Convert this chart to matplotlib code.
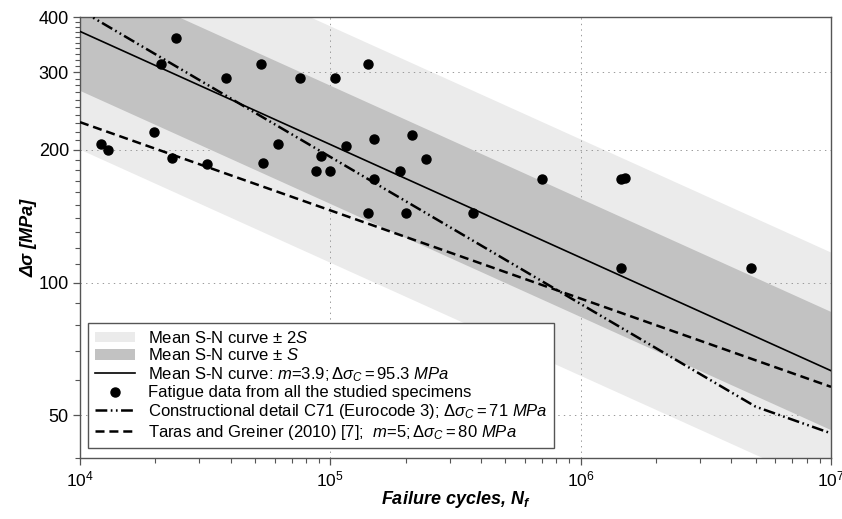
import numpy as np
import matplotlib
matplotlib.use('Agg')
import matplotlib.pyplot as plt
from matplotlib.ticker import FixedLocator, FixedFormatter, NullFormatter, LogLocator
from matplotlib.patches import Patch
from matplotlib.lines import Line2D

plt.rcParams['font.family'] = ['Liberation Sans', 'DejaVu Sans']
plt.rcParams['mathtext.fontset'] = 'custom'
plt.rcParams['mathtext.rm'] = 'Liberation Sans'
plt.rcParams['mathtext.it'] = 'Liberation Sans:italic'
plt.rcParams['mathtext.bf'] = 'Liberation Sans:bold:italic'
plt.rcParams['lines.scale_dashes'] = False

# ---- data ----
cycles = [12.1e3, 12.9e3, 24.2e3, 21.1e3, 19.8e3, 23.3e3, 32.2e3, 38.4e3, 53e3, 54e3,
          62e3, 75.9e3, 87.9e3, 92e3, 100e3, 104e3, 115e3, 142e3, 141e3, 150e3,
          150e3, 190e3, 200e3, 211e3, 242e3, 373e3, 698e3, 1.445e6, 1.51e6, 1.445e6, 4.79e6]
stress = [206, 200, 358, 313, 219, 192, 186, 291, 313, 187,
          206, 291, 179, 194, 179, 291, 204, 313, 143.5, 172,
          212, 179, 143.5, 216, 191, 143.5, 172, 172, 173, 107.6, 107.6]

mean_cycles = [1e4, 1e7]
mean_stress = [371.0, 63.1]
band_log_sd = 0.134

ec3_cycles = [1e4, 5e6, 1e7]
ec3_stress = [415.0, 52.3, 45.5]

taras_cycles = [1e4, 1e7]
taras_stress = [231.0, 58.0]

y_major = [50, 100, 200, 300, 400]
y_major_labels = ['50', '100', '200', '300', '400']
y_minor = [v for v in range(40, 401, 10) if v not in y_major]

# ---- figure ----
fig = plt.figure(figsize=(8.42, 5.19), dpi=100)
ax = fig.add_axes([80 / 842, 1 - 458 / 519, 751 / 842, 441 / 519])
ax.set_xscale('log')
ax.set_yscale('log')

mc = np.array(mean_cycles)
ms = np.array(mean_stress)
light = '#ebebeb'
dark = '#c2c2c2'
ax.fill_between(mc, ms * 10 ** (-2 * band_log_sd), ms * 10 ** (2 * band_log_sd),
                color=light, lw=0, zorder=0.2)
ax.fill_between(mc, ms * 10 ** (-band_log_sd), ms * 10 ** (band_log_sd),
                color=dark, lw=0, zorder=0.8)

ax.set_axisbelow(True)
ax.grid(True, which='major', color='#999999', linestyle=(0, (1, 3)), linewidth=0.7)

ax.plot(mean_cycles, mean_stress, color='black', lw=1.2, zorder=3)
ec_dash = (8.5, 2.5, 1.2, 2.5, 1.2, 2.5)
ax.plot(ec3_cycles, ec3_stress, color='black', lw=1.8, dashes=ec_dash, zorder=3)
ta_dash = (6.5, 3.5)
ax.plot(taras_cycles, taras_stress, color='black', lw=1.8, dashes=ta_dash, zorder=3)
ax.plot(cycles, stress, 'o', color='black', ms=6.5, zorder=4)

ax.set_xlim(1e4, 1e7)
ax.set_ylim(40, 400)

ax.yaxis.set_major_locator(FixedLocator(y_major))
ax.yaxis.set_major_formatter(FixedFormatter(y_major_labels))
ax.yaxis.set_minor_locator(FixedLocator(y_minor))
ax.yaxis.set_minor_formatter(NullFormatter())
ax.xaxis.set_major_locator(LogLocator(base=10, numticks=10))
ax.xaxis.set_minor_locator(LogLocator(base=10, subs=np.arange(2, 10), numticks=20))
ax.xaxis.set_minor_formatter(NullFormatter())

for sp in ax.spines.values():
    sp.set_color('#555555')
    sp.set_linewidth(1.0)
ax.tick_params(which='both', direction='out', color='#555555', top=False, right=False)
ax.tick_params(which='major', length=5, width=0.9, labelsize=13, pad=3)
ax.tick_params(axis='x', which='major', labelsize=12.5)
ax.tick_params(which='minor', length=3.5, width=0.8)

ax.set_xlabel('Failure cycles, ' + r'$\mathbf{N_f}$', fontsize=13, fontweight='bold',
              style='italic', labelpad=0)
ax.set_ylabel('Δσ [MPa]', fontsize=13, fontweight='bold', style='italic', labelpad=1)

handles = [
    Patch(facecolor=light, edgecolor='none'),
    Patch(facecolor=dark, edgecolor='none'),
    Line2D([], [], color='black', lw=1.2),
    Line2D([], [], color='black', marker='o', ms=6.5, ls='none'),
    Line2D([], [], color='black', lw=1.8, dashes=ec_dash),
    Line2D([], [], color='black', lw=1.8, dashes=ta_dash),
]
labels = [
    'Mean S-N curve ± ' + r'$\mathit{2S}$',
    'Mean S-N curve ± ' + r'$\mathit{S}$',
    'Mean S-N curve: ' + r'$\mathit{m}$=$\mathit{3.9;\Delta\sigma_C = 95.3\ MPa}$',
    'Fatigue data from all the studied specimens',
    'Constructional detail C71 (Eurocode 3); ' + r'$\mathit{\Delta\sigma_C = 71\ MPa}$',
    'Taras and Greiner (2010) [7];  ' + r'$\mathit{m}$=$\mathit{5;\Delta\sigma_C = 80\ MPa}$',
]
leg = ax.legend(handles, labels, loc='upper left',
                bbox_to_anchor=(88 / 842, 1 - 323 / 519), bbox_transform=fig.transFigure,
                borderaxespad=0, fontsize=12, frameon=True, fancybox=False,
                edgecolor='#555555', framealpha=1, labelspacing=0.1,
                handlelength=2.4, handleheight=0.6, handletextpad=0.8, borderpad=0.4,
                numpoints=1)
leg.get_frame().set_linewidth(1.0)
leg.set_zorder(5)

fig.savefig('out.png', dpi=100)
